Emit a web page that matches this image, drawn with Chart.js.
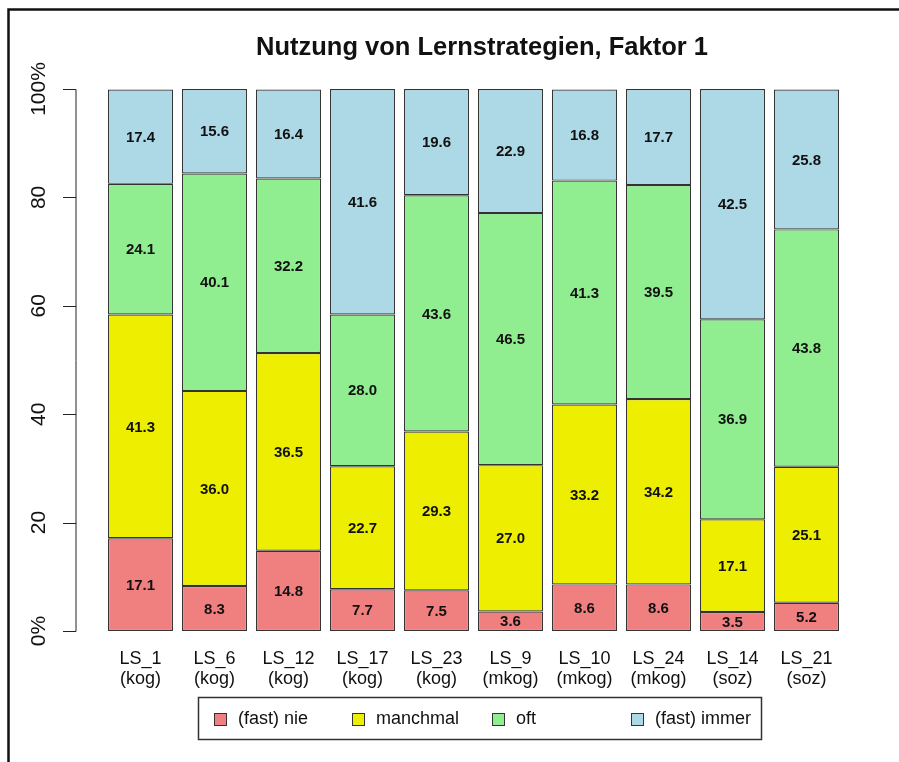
<!DOCTYPE html>
<html>
<head>
<meta charset="utf-8">
<script src="https://cdn.jsdelivr.net/npm/chart.js@4.4.0/dist/chart.umd.min.js"></script>
<style>
html, body { margin: 0; padding: 0; background: #fff; }
</style>
</head>
<body>
<canvas id="chart" width="899" height="762"></canvas>
<script>
const categories = [
    ['LS_1', '(kog)'], ['LS_6', '(kog)'], ['LS_12', '(kog)'], ['LS_17', '(kog)'], ['LS_23', '(kog)'],
    ['LS_9', '(mkog)'], ['LS_10', '(mkog)'], ['LS_24', '(mkog)'], ['LS_14', '(soz)'], ['LS_21', '(soz)'],
];
const nie      = [17.1, 8.3, 14.8, 7.7, 7.5, 3.6, 8.6, 8.6, 3.5, 5.2];
const manchmal = [41.3, 36.0, 36.5, 22.7, 29.3, 27.0, 33.2, 34.2, 17.1, 25.1];
const oft      = [24.1, 40.1, 32.2, 28.0, 43.6, 46.5, 41.3, 39.5, 36.9, 43.8];
const immer    = [17.4, 15.6, 16.4, 41.6, 19.6, 22.9, 16.8, 17.7, 42.5, 25.8];
const seriesNames = ['(fast) nie', 'manchmal', 'oft', '(fast) immer'];
const yTicks = [0, 20, 40, 60, 80, 100];
const yTickLabels = ['0%', '20', '40', '60', '80', '100%'];
const title = 'Nutzung von Lernstrategien, Faktor 1';

const colors = ['#f08080', '#eeee00', '#90ee90', '#add8e6'];
const edge = '#333';
const ink = '#111';

// frame, title, R-style y axis and boxed legend
const decor = {
    id: 'decor',
    afterDraw(chart) {
        const ctx = chart.ctx;
        const area = chart.chartArea;
        const y = chart.scales.y;
        ctx.save();

        ctx.strokeStyle = '#111';
        ctx.lineWidth = 2.5;
        ctx.strokeRect(8.5, 9.5, 1000, 1000);

        ctx.fillStyle = ink;
        ctx.font = 'bold 25.5px "Liberation Sans", Arial, sans-serif';
        ctx.textAlign = 'center';
        ctx.textBaseline = 'alphabetic';
        ctx.fillText(title, 482, 55);

        const ax = area.left - 27.5;
        ctx.strokeStyle = '#222';
        ctx.lineWidth = 1;
        ctx.beginPath();
        ctx.moveTo(ax, Math.round(y.getPixelForValue(0)) + 0.5);
        ctx.lineTo(ax, Math.round(y.getPixelForValue(100)) + 0.5);
        yTicks.forEach(v => {
            const py = Math.round(y.getPixelForValue(v)) + 0.5;
            ctx.moveTo(ax, py);
            ctx.lineTo(ax - 13, py);
        });
        ctx.stroke();

        ctx.font = '21px "Liberation Sans", Arial, sans-serif';
        yTicks.forEach((v, i) => {
            ctx.save();
            ctx.translate(45, y.getPixelForValue(v));
            ctx.rotate(-Math.PI / 2);
            ctx.textAlign = 'center';
            ctx.textBaseline = 'alphabetic';
            ctx.fillText(yTickLabels[i], 0, 0);
            ctx.restore();
        });

        // legend
        ctx.strokeStyle = '#333';
        ctx.lineWidth = 1.5;
        ctx.strokeRect(198.5, 697.5, 563, 42);
        const boxX = [214, 352, 492, 631];
        ctx.font = '18px "Liberation Sans", Arial, sans-serif';
        ctx.textAlign = 'left';
        ctx.textBaseline = 'middle';
        chart.data.datasets.forEach((ds, i) => {
            ctx.fillStyle = ds.backgroundColor;
            ctx.fillRect(boxX[i], 713, 12, 12);
            ctx.strokeStyle = edge;
            ctx.lineWidth = 1;
            ctx.strokeRect(boxX[i] + 0.5, 713.5, 12, 12);
            ctx.fillStyle = ink;
            ctx.fillText(ds.label, boxX[i] + 24, 719);
        });
        ctx.restore();
    },
    afterDatasetsDraw(chart) {
        const ctx = chart.ctx;
        ctx.save();
        ctx.fillStyle = ink;
        ctx.font = 'bold 15px "Liberation Sans", Arial, sans-serif';
        ctx.textAlign = 'center';
        ctx.textBaseline = 'middle';
        chart.data.datasets.forEach((ds, i) => {
            chart.getDatasetMeta(i).data.forEach((bar, j) => {
                ctx.fillText(ds.data[j].toFixed(1), bar.x, (bar.y + bar.base) / 2 + 1);
            });
        });
        ctx.restore();
    },
};

new Chart(document.getElementById('chart'), {
    type: 'bar',
    data: {
        labels: categories,
        datasets: [nie, manchmal, oft, immer].map((d, i) => ({
            label: seriesNames[i],
            data: d,
            backgroundColor: colors[i],
            borderColor: edge,
            borderWidth: 1.2,
            borderSkipped: false,
            categoryPercentage: 1,
            barPercentage: 0.878,
        })),
    },
    options: {
        responsive: false,
        animation: false,
        devicePixelRatio: 1,
        layout: {
            padding: { left: 103.5, right: 55.5, top: 89, bottom: 69 },
        },
        plugins: {
            legend: { display: false },
            title: { display: false },
            tooltip: { enabled: false },
        },
        scales: {
            x: {
                stacked: true,
                grid: { display: false, drawTicks: false },
                border: { display: false },
                ticks: {
                    padding: 18,
                    color: ink,
                    font: { family: '"Liberation Sans", Arial, sans-serif', size: 18, lineHeight: 1.1 },
                    maxRotation: 0,
                    autoSkip: false,
                },
                afterFit(scale) { scale.height = 62; },
            },
            y: {
                stacked: true,
                display: false,
                min: 0,
                max: 100,
            },
        },
    },
    plugins: [decor],
});
</script>
</body>
</html>
